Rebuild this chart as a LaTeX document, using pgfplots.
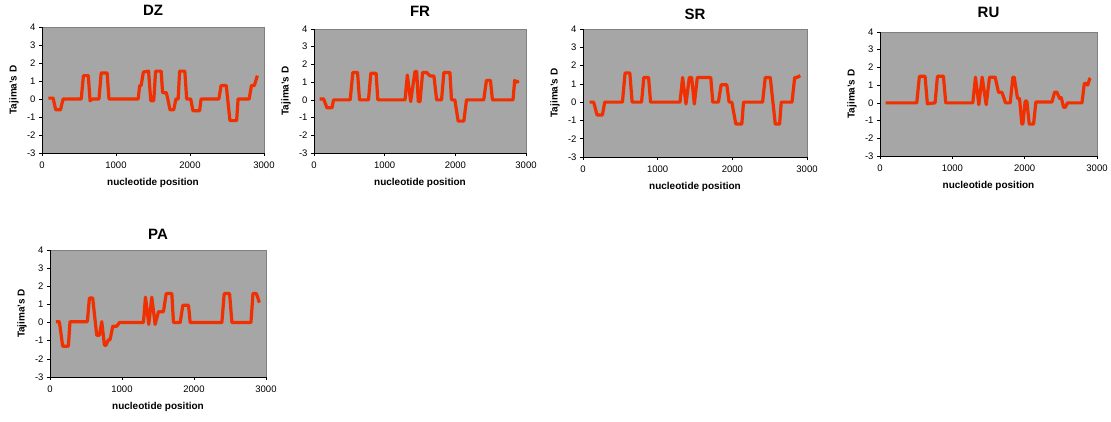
\documentclass[border=0pt]{standalone}
\usepackage{pgfplots}
\pgfplotsset{compat=1.18}
\usepackage{fontspec}
\setmainfont{Liberation Sans}
\definecolor{bggray}{RGB}{166,166,166}
\definecolor{bordergray}{RGB}{128,128,128}
\definecolor{linered}{RGB}{240,48,0}
\tikzset{tajline/.style={draw=linered, line width=3.2pt, line join=round, mark=none}}
\pgfplotsset{
  taj/.style={
    scale only axis, anchor=south west,
    xmin=0, xmax=3000, ymin=-3, ymax=4,
    xtick={0,1000,2000,3000}, ytick={-3,-2,-1,0,1,2,3,4},
    axis lines=left, axis line style={-, black, line width=0.7pt},
    axis background/.style={fill=bggray, draw=bordergray, line width=0.7pt},
    tick align=outside, major tick length=3pt,
    tick style={black, line width=0.7pt},
    /pgf/number format/assume math mode=true,
    /pgf/number format/1000 sep={},
    ticklabel style={font=\fontsize{9.5}{10}\selectfont},
    xticklabel style={yshift=-2pt},
    xlabel={nucleotide position}, ylabel={Tajima's D},
    xlabel style={at={([yshift=-30pt]axis description cs:0.5,0)}, anchor=center, font=\fontsize{10}{12}\selectfont\bfseries},
    ylabel style={at={([xshift=-28pt]axis description cs:0,0.5)}, anchor=center, font=\fontsize{10}{12}\selectfont\bfseries},
    title style={anchor=center, font=\fontsize{15}{16}\selectfont\bfseries},
  }
}
\begin{document}
\begin{tikzpicture}
\path (0pt,0pt) rectangle (1111pt,421pt);
% DZ
\begin{axis}[taj, at={(42pt,268pt)}, width=222pt, height=126pt, title={DZ},
  title style={at={([yshift=11pt]axis description cs:0.5,1)}}]
\addplot[tajline] coordinates {(85,0.05)(150,0.05)(185,-0.6)(250,-0.6)(285,0)(530,0)(560,1.3)(625,1.3)(650,-0.1)(680,0)(770,0)(800,1.45)(880,1.45)(905,0)(1300,0)(1320,0.75)(1340,0.75)(1370,1.5)(1440,1.55)(1470,-0.1)(1510,-0.1)(1535,1.55)(1610,1.55)(1630,0.35)(1680,0.35)(1700,0)(1730,-0.6)(1780,-0.6)(1810,0)(1840,0)(1860,1.55)(1930,1.55)(1955,0)(2010,0)(2040,-0.65)(2130,-0.65)(2150,0)(2390,0)(2420,0.75)(2490,0.75)(2540,-1.2)(2630,-1.2)(2650,0)(2800,0)(2830,0.75)(2870,0.75)(2910,1.3)};
\end{axis}
% FR
\begin{axis}[taj, at={(314pt,268pt)}, width=212pt, height=124pt, title={FR},
  title style={at={([yshift=12pt]axis description cs:0.5,1)}}]
\addplot[tajline] coordinates {(80,0.05)(136,0.05)(183,-0.45)(254,-0.45)(277,0)(512,0)(550,1.55)(616,1.55)(644,0)(771,0)(804,1.5)(879,1.5)(903,0)(1288,0)(1321,1.4)(1368,-0.1)(1429,1.6)(1453,1.6)(1476,-0.1)(1500,-0.1)(1537,1.55)(1594,1.55)(1641,1.35)(1697,1.35)(1735,0)(1805,0)(1838,1.55)(1923,1.55)(1946,0)(1993,0)(2040,-1.2)(2120,-1.2)(2158,0)(2402,0)(2440,1.1)(2497,1.1)(2525,0)(2816,0)(2840,1.1)(2862,1.0)(2900,1.05)};
\end{axis}
% SR
\begin{axis}[taj, at={(583pt,264pt)}, width=224pt, height=128pt, title={SR},
  title style={at={([yshift=9pt]axis description cs:0.5,1)}}]
\addplot[tajline] coordinates {(90,0)(143,0)(188,-0.7)(260,-0.7)(291,0)(528,0)(564,1.6)(627,1.6)(658,0)(784,0)(815,1.35)(878,1.35)(905,0)(1299,0)(1334,1.35)(1379,-0.1)(1424,1.35)(1455,1.35)(1491,-0.1)(1531,1.35)(1711,1.35)(1738,0)(1814,0)(1850,0.95)(1926,0.95)(1957,0)(1993,0)(2047,-1.2)(2127,-1.2)(2150,0)(2405,0)(2441,1.35)(2508,1.35)(2575,-1.2)(2633,-1.2)(2655,0)(2799,0)(2835,1.35)(2866,1.35)(2910,1.45)};
\end{axis}
% RU
\begin{axis}[taj, at={(880pt,265pt)}, width=217pt, height=124pt, title={RU},
  title style={at={([yshift=14pt]axis description cs:0.5,1)}}]
\addplot[tajline] coordinates {(78,0)(508,0)(545,1.5)(623,1.5)(655,-0.05)(762,0)(794,1.5)(877,1.5)(909,0)(1283,0)(1320,1.45)(1366,-0.1)(1412,1.45)(1468,-0.1)(1514,1.45)(1592,1.45)(1638,0.6)(1684,0.6)(1707,0.35)(1735,0)(1800,0)(1837,1.45)(1855,1.45)(1901,0.25)(1929,0.25)(1961,-1.2)(1975,-1.2)(2007,0.1)(2030,0.1)(2063,-1.2)(2123,-1.2)(2155,0.05)(2377,0.05)(2414,0.6)(2446,0.6)(2483,0.25)(2505,0.3)(2538,-0.25)(2560,-0.25)(2594,0)(2792,0)(2825,1.1)(2852,1.1)(2871,1.0)(2898,1.35)(2910,1.4)};
\end{axis}
% PA
\begin{axis}[taj, at={(50pt,44pt)}, width=216pt, height=127pt, title={PA},
  title style={at={([yshift=10pt]axis description cs:0.5,1)}}]
\addplot[tajline] coordinates {(83,0.05)(130,0.05)(176,-1.3)(255,-1.3)(278,0.05)(519,0.05)(547,1.35)(593,1.35)(649,-0.7)(686,-0.7)(719,0.05)(756,-1.25)(779,-1.25)(810,-0.95)(834,-0.95)(872,-0.2)(927,-0.2)(964,0)(1298,0)(1326,1.4)(1372,-0.1)(1414,1.4)(1460,-0.1)(1507,0.6)(1576,0.6)(1614,1.6)(1692,1.6)(1715,0)(1808,0)(1845,0.95)(1924,0.95)(1947,0)(2387,0)(2420,1.6)(2494,1.6)(2527,0)(2791,0)(2819,1.6)(2865,1.6)(2884,1.4)(2907,1.1)};
\end{axis}
\end{tikzpicture}
\end{document}
